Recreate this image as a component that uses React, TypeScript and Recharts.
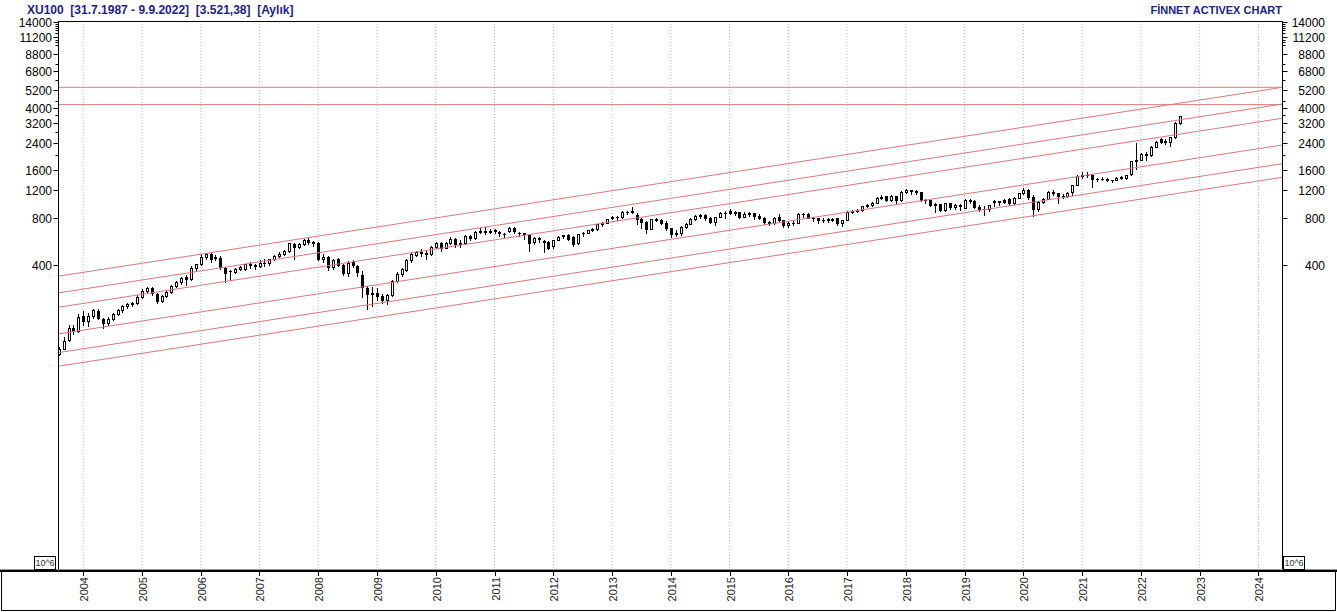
import { Bar, CartesianGrid, ComposedChart, ReferenceLine, XAxis, YAxis } from "recharts";

// XU100 aylık mumlar, Ağustos 2003 - Eylül 2022
const FIRST_YEAR = 2003;
const FIRST_MONTH = 8;

const OPEN = [
	110, 118, 134, 160, 152,
	190, 176, 190, 206, 183, 172, 183, 196, 207, 221, 226, 230,
	253, 275, 287, 262, 238, 256, 270, 296, 311, 338, 326, 383,
	406, 451, 471, 443, 445, 383, 370, 363, 377, 380, 406, 400,
	396, 415, 412, 436, 458, 474, 490, 545, 520, 546, 582, 558,
	555, 440, 450, 390, 435, 400, 356, 421, 396, 345, 285, 262,
	268, 255, 242, 258, 318, 352, 375, 430, 466, 488, 480, 470,
	525, 550, 515, 552, 586, 545, 557, 613, 593, 648, 664, 648,
	665, 650, 635, 655, 690, 640, 638, 625, 565, 592, 568, 565,
	526, 580, 620, 622, 606, 550, 636, 645, 665, 678, 735, 745,
	800, 815, 806, 872, 868, 830, 784, 750, 680, 784, 770, 745,
	686, 631, 645, 700, 735, 790, 821, 832, 795, 750, 810, 855,
	880, 860, 868, 810, 848, 852, 818, 795, 750, 745, 810, 770,
	715, 745, 745, 850, 845, 800, 795, 780, 778, 782, 795, 745,
	775, 872, 885, 895, 946, 959, 997, 1073, 1099, 1044, 1099, 1040,
	1168, 1197, 1190, 1160, 1044, 1034, 960, 976, 902, 990, 937, 960,
	929, 1044, 1030, 935, 915, 905, 1005, 1025, 1045, 1055, 990, 1074,
	1150, 1197, 1085, 915, 1009, 1059, 1168, 1142, 1105, 1105, 1158, 1300,
	1470, 1500, 1490, 1419, 1415, 1420, 1390, 1385, 1460, 1430, 1526, 1826,
	1875, 2020, 2000, 2248, 2520, 2470, 2420, 2600, 3200,
];

const HIGH = [
	121, 141, 166, 166, 196,
	204, 198, 210, 210, 186, 188, 200, 212, 225, 231, 234, 258,
	282, 293, 292, 266, 260, 275, 300, 318, 338, 345, 393, 410,
	471, 478, 480, 462, 455, 390, 375, 382, 394, 410, 418, 410,
	430, 435, 440, 465, 482, 500, 555, 555, 552, 590, 592, 568,
	560, 470, 455, 440, 445, 405, 425, 430, 400, 365, 295, 290,
	285, 262, 262, 320, 360, 385, 435, 480, 495, 505, 498, 528,
	565, 560, 558, 600, 595, 575, 618, 620, 655, 685, 695, 675,
	680, 655, 645, 695, 700, 650, 645, 630, 600, 600, 575, 570,
	582, 615, 625, 630, 612, 632, 650, 672, 690, 735, 750, 790,
	825, 825, 880, 885, 935, 860, 800, 760, 790, 800, 790, 760,
	690, 665, 705, 740, 800, 830, 845, 845, 810, 815, 865, 882,
	905, 885, 870, 870, 875, 855, 840, 805, 760, 805, 850, 775,
	750, 760, 858, 862, 858, 805, 800, 795, 795, 795, 800, 780,
	878, 895, 910, 955, 975, 1010, 1080, 1110, 1105, 1110, 1105, 1175,
	1215, 1205, 1205, 1170, 1060, 1040, 990, 985, 1000, 1000, 975, 980,
	1050, 1060, 1040, 960, 950, 970, 1045, 1030, 1060, 1070, 1085, 1150,
	1245, 1210, 1110, 1020, 1070, 1180, 1195, 1150, 1140, 1160, 1300, 1485,
	1560, 1560, 1510, 1435, 1445, 1435, 1400, 1460, 1480, 1495, 1840, 2370,
	2050, 2080, 2270, 2470, 2580, 2540, 2610, 3230, 3560,
];

const LOW = [
	107, 117, 132, 146, 150,
	166, 165, 186, 182, 160, 168, 180, 193, 203, 215, 222, 226,
	248, 270, 258, 230, 233, 252, 266, 290, 305, 300, 320, 375,
	400, 440, 420, 432, 380, 315, 323, 355, 372, 375, 385, 380,
	390, 395, 400, 430, 450, 462, 485, 441, 515, 540, 545, 530,
	430, 420, 375, 380, 395, 345, 340, 390, 340, 253, 210, 222,
	240, 230, 228, 255, 315, 340, 370, 420, 458, 455, 440, 465,
	515, 495, 512, 545, 520, 525, 550, 580, 590, 640, 630, 640,
	640, 610, 600, 650, 645, 615, 590, 493, 545, 560, 488, 505,
	515, 575, 595, 580, 530, 545, 615, 640, 655, 670, 710, 740,
	785, 780, 800, 840, 860, 730, 690, 636, 675, 760, 735, 670,
	606, 615, 625, 690, 730, 775, 800, 775, 740, 720, 805, 800,
	840, 830, 795, 805, 820, 790, 785, 735, 720, 735, 760, 700,
	695, 715, 740, 815, 795, 760, 740, 755, 755, 765, 725, 705,
	770, 860, 870, 880, 935, 950, 990, 1050, 1030, 1025, 1000, 1030,
	1150, 1140, 1140, 1030, 990, 950, 872, 880, 890, 910, 905, 900,
	920, 990, 920, 890, 833, 890, 955, 960, 990, 960, 985, 1070,
	1130, 1050, 821, 880, 990, 1050, 1120, 986, 1070, 1090, 1110, 1290,
	1440, 1450, 1250, 1370, 1390, 1370, 1350, 1380, 1410, 1410, 1500, 1640,
	1850, 1870, 1985, 2240, 2380, 2350, 2300, 2560, 3170,
];

const CLOSE = [
	118, 133, 160, 152, 188,
	176, 190, 207, 185, 172, 183, 196, 207, 219, 226, 230, 253,
	275, 287, 265, 236, 256, 270, 296, 311, 333, 326, 383, 406,
	451, 471, 441, 450, 389, 358, 365, 377, 390, 406, 400, 396,
	415, 412, 436, 458, 474, 490, 550, 520, 546, 582, 558, 555,
	440, 450, 390, 430, 400, 355, 415, 400, 364, 292, 262, 268,
	255, 240, 258, 316, 352, 378, 430, 470, 488, 480, 470, 522,
	550, 515, 552, 586, 545, 557, 613, 593, 648, 664, 648, 660,
	655, 640, 630, 690, 655, 636, 632, 550, 595, 588, 562, 514,
	577, 606, 615, 590, 542, 628, 645, 665, 678, 730, 745, 784,
	815, 806, 872, 868, 890, 784, 750, 675, 784, 775, 745, 686,
	631, 645, 695, 735, 790, 821, 832, 795, 750, 810, 855, 858,
	860, 868, 810, 848, 852, 818, 795, 750, 745, 800, 770, 715,
	745, 740, 850, 845, 800, 795, 780, 778, 782, 778, 745, 775,
	872, 885, 895, 946, 959, 997, 1073, 1090, 1044, 1099, 1040, 1168,
	1197, 1190, 1160, 1044, 1034, 960, 976, 902, 990, 937, 960, 946,
	1044, 1030, 935, 915, 905, 960, 1025, 1009, 1010, 990, 1074, 1144,
	1197, 1085, 915, 1009, 1059, 1168, 1142, 1105, 1100, 1150, 1287, 1470,
	1500, 1490, 1419, 1415, 1420, 1390, 1385, 1440, 1430, 1485, 1826, 1860,
	2020, 2000, 2248, 2440, 2425, 2420, 2590, 3180, 3521,
];

const YEAR_TICKS = [
	2004, 2005, 2006, 2007, 2008, 2009, 2010, 2011, 2012, 2013, 2014,
	2015, 2016, 2017, 2018, 2019, 2020, 2021, 2022, 2023, 2024,
];

const Y_LABELS = [400, 800, 1200, 1600, 2400, 3200, 4000, 5200, 6800, 8800, 11200, 14000];
const Y_MINOR = [2000, 2800, 3600, 4400, 6000, 7600, 10000, 10400, 10800, 12000, 12400, 12800, 13200, 13600];

// kanal çizgileri: grafiğin sol ve sağ kenarındaki değerler
const CHANNEL_START = [341, 267, 216.5, 146.6, 111.5, 91.4];
const CHANNEL_END = [5390, 4224, 3428, 2320, 1765, 1447];
const LEVELS = [5390, 4182];

const WIDTH = 1337;
const HEIGHT = 612;
const PLOT_LEFT = 58.5;
const PLOT_RIGHT = 1282.5;
const PLOT_TOP = 21;
const PLOT_BOTTOM = 570;
const X_DOMAIN: [number, number] = [2003.58, 2024.41];
const Y_DOMAIN: [number, number] = [4.65, 14200];

const FONT = "'Liberation Sans', Arial, sans-serif";
const NAVY = "#1e2380";
const RED = "#dc7878";

const rows = OPEN.map((open, i) => ({
	t: FIRST_YEAR + (FIRST_MONTH - 1 + i) / 12,
	open,
	high: HIGH[i],
	low: LOW[i],
	close: CLOSE[i],
	range: [LOW[i], HIGH[i]],
}));

function Candle(props: any) {
	const { x, y, width, height, payload } = props;
	if (x == null || y == null || !payload) {
		return null;
	}

	const top = Math.min(y, y + height);
	const span = Math.abs(height);
	const lh = Math.log(payload.high);
	const ll = Math.log(payload.low);
	const toPx = (v: number) =>
		lh === ll ? top : top + (span * (lh - Math.log(v))) / (lh - ll);

	const cx = Math.round(x + width / 2);
	const rising = payload.close >= payload.open;
	const bodyTop = Math.round(toPx(Math.max(payload.open, payload.close)));
	const bodyBottom = Math.round(toPx(Math.min(payload.open, payload.close)));

	return (
		<g>
			<line
				x1={cx + 0.5}
				x2={cx + 0.5}
				y1={Math.round(top)}
				y2={Math.round(top + span) + 1}
				stroke="#000"
				strokeWidth={1}
			/>
			{bodyBottom - bodyTop < 1 ? (
				<line
					x1={cx - 1}
					x2={cx + 2}
					y1={bodyTop + 0.5}
					y2={bodyTop + 0.5}
					stroke="#000"
					strokeWidth={1}
				/>
			) : (
				<rect
					x={cx - 0.5}
					y={bodyTop + 0.5}
					width={2}
					height={bodyBottom - bodyTop}
					fill={rising ? "#fff" : "#000"}
					stroke="#000"
					strokeWidth={1}
				/>
			)}
		</g>
	);
}

function renderYTick(side: "left" | "right") {
	return (props: any) => {
		const { y, payload } = props;
		const value = payload.value as number;
		const major = Y_LABELS.includes(value);
		const py = Math.round(y) + 0.5;
		const len = major ? 5 : 3;
		const x1 = side === "left" ? PLOT_LEFT - len : PLOT_RIGHT;
		const x2 = side === "left" ? PLOT_LEFT : PLOT_RIGHT + len;

		return (
			<g>
				<line x1={x1} x2={x2} y1={py} y2={py} stroke="#000" strokeWidth={1} />
				{major && (
					<text
						x={side === "left" ? 52 : 1325}
						y={py}
						dy={4.3}
						textAnchor="end"
						fontSize={12}
						fontFamily={FONT}
						fill="#000"
					>
						{value}
					</text>
				)}
			</g>
		);
	};
}

function renderYearTick(props: any) {
	const { x, payload } = props;
	const cx = Math.round(x) + 0.5;
	const ty = 577;

	return (
		<g>
			<line x1={cx} x2={cx} y1={572} y2={576} stroke="#000" strokeWidth={1} />
			<text
				x={cx}
				y={ty}
				dy={4}
				textAnchor="end"
				transform={`rotate(-90 ${cx} ${ty})`}
				fontSize={11}
				fontFamily={FONT}
				fill="#222"
			>
				{payload.value}
			</text>
		</g>
	);
}

function Frame() {
	return (
		<svg
			width={WIDTH}
			height={HEIGHT}
			style={{ position: "absolute", left: 0, top: 0, pointerEvents: "none" }}
		>
			<text
				x={27}
				y={14}
				fontSize={12}
				fontWeight="bold"
				fontFamily={FONT}
				fill={NAVY}
				style={{ whiteSpace: "pre" }}
			>
				{"XU100  [31.7.1987 - 9.9.2022]  [3.521,38]  [Aylık]"}
			</text>
			<text
				x={1282}
				y={13.5}
				textAnchor="end"
				fontSize={11}
				fontWeight="bold"
				fontFamily={FONT}
				fill={NAVY}
			>
				FİNNET ACTIVEX CHART
			</text>

			<line x1={PLOT_LEFT - 0.5} x2={PLOT_RIGHT + 0.5} y1={PLOT_TOP + 0.5} y2={PLOT_TOP + 0.5} stroke="#000" />

			<line x1={0} x2={WIDTH} y1={569.5} y2={569.5} stroke="#9a9a9a" />
			<line x1={0} x2={WIDTH} y1={571} y2={571} stroke="#000" strokeWidth={2} />
			<line x1={1.5} x2={1.5} y1={570} y2={611} stroke="#000" />
			<line x1={1335.5} x2={1335.5} y1={570} y2={611} stroke="#000" />
			<line x1={1} x2={1336} y1={610.5} y2={610.5} stroke="#000" />

			<rect x={34.5} y={556.5} width={21} height={13} fill="#fff" stroke="#000" />
			<text x={45} y={566} textAnchor="middle" fontSize={9} fontFamily={FONT} fill="#333">
				10^6
			</text>
			<rect x={1283.5} y={556.5} width={21} height={13} fill="#fff" stroke="#000" />
			<text x={1294} y={566} textAnchor="middle" fontSize={9} fontFamily={FONT} fill="#333">
				10^6
			</text>
		</svg>
	);
}

export default function App() {
	return (
		<div
			style={{
				position: "absolute",
				left: 0,
				top: 0,
				width: WIDTH,
				height: HEIGHT,
				background: "#fff",
				fontFamily: FONT,
			}}
		>
			<ComposedChart
				width={WIDTH}
				height={HEIGHT}
				data={rows}
				margin={{ top: PLOT_TOP, right: 0, bottom: 0, left: 0 }}
				style={{ fontFamily: FONT }}
			>
				<CartesianGrid
					yAxisId="left"
					horizontal={false}
					vertical
					stroke="#b8b8b8"
					strokeDasharray="1 2"
				/>
				<XAxis
					dataKey="t"
					type="number"
					domain={X_DOMAIN}
					allowDataOverflow
					ticks={YEAR_TICKS}
					interval={0}
					height={HEIGHT - PLOT_BOTTOM}
					axisLine={false}
					tickLine={false}
					tick={renderYearTick}
				/>
				<YAxis
					yAxisId="left"
					orientation="left"
					scale="log"
					domain={Y_DOMAIN}
					allowDataOverflow
					ticks={[...Y_LABELS, ...Y_MINOR]}
					interval={0}
					width={PLOT_LEFT}
					axisLine={{ stroke: "#000" }}
					tickLine={false}
					tick={renderYTick("left")}
				/>
				<YAxis
					yAxisId="right"
					orientation="right"
					scale="log"
					domain={Y_DOMAIN}
					allowDataOverflow
					ticks={[...Y_LABELS, ...Y_MINOR]}
					interval={0}
					width={WIDTH - PLOT_RIGHT}
					axisLine={{ stroke: "#000" }}
					tickLine={false}
					tick={renderYTick("right")}
				/>
				{LEVELS.map((level) => (
					<ReferenceLine
						key={`level-${level}`}
						yAxisId="left"
						y={level}
						stroke={RED}
						strokeWidth={1}
					/>
				))}
				{CHANNEL_START.map((start, i) => (
					<ReferenceLine
						key={`channel-${i}`}
						yAxisId="left"
						segment={[
							{ x: X_DOMAIN[0], y: start },
							{ x: X_DOMAIN[1], y: CHANNEL_END[i] },
						]}
						stroke={RED}
						strokeWidth={1}
						ifOverflow="visible"
					/>
				))}
				<Bar
					yAxisId="left"
					dataKey="range"
					barSize={3}
					shape={Candle}
					isAnimationActive={false}
				/>
			</ComposedChart>
			<Frame />
		</div>
	);
}
